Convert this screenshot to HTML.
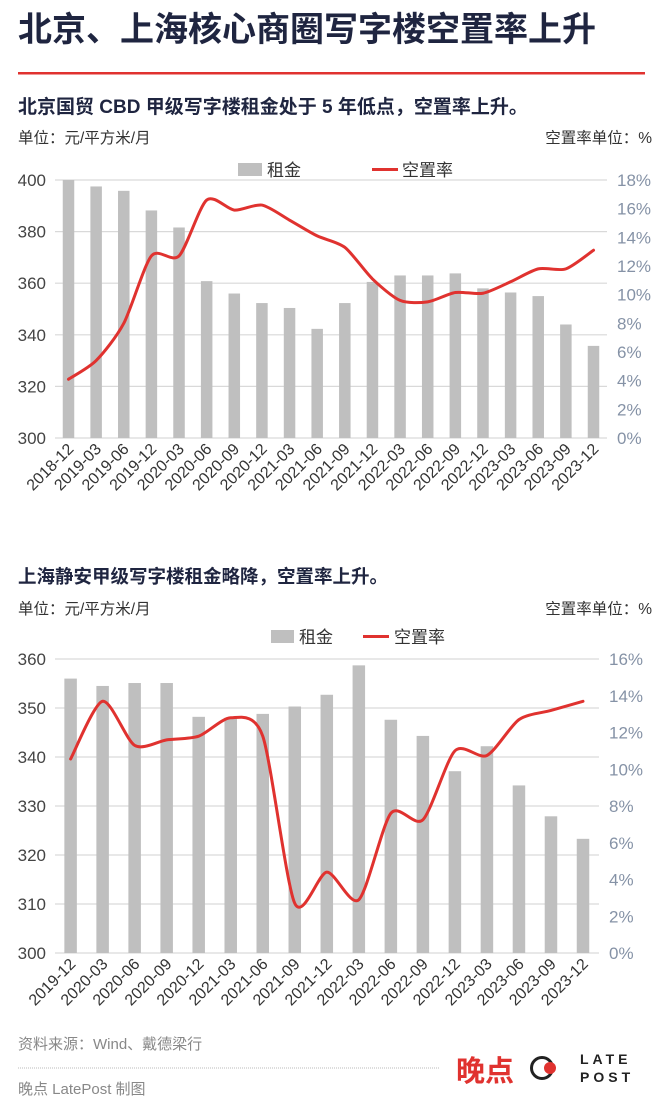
<!DOCTYPE html>
<html><head><meta charset="utf-8">
<style>
body{margin:0;background:#fff;}
svg{display:block;font-family:"Liberation Sans","Noto Sans CJK SC",sans-serif;}
</style></head>
<body>
<svg id="root" width="660" height="1108" viewBox="0 0 660 1108">
<text x="18" y="41" font-size="34" font-weight="bold" fill="#1f2540">北京、上海核心商圈写字楼空置率上升</text>
<rect x="18" y="72" width="627" height="2.5" fill="#e0322f"/>

<text x="18" y="113" font-size="19" font-weight="bold" fill="#1f2540">北京国贸 CBD 甲级写字楼租金处于 5 年低点，空置率上升。</text>
<text x="18" y="143" font-size="15.5" fill="#333">单位：元/平方米/月</text>
<text x="652" y="143" font-size="15.5" fill="#333" text-anchor="end">空置率单位：%</text>
<g>
<rect x="238" y="163" width="24" height="13" fill="#bfbfbf"/>
<text x="267" y="176" font-size="17" fill="#333">租金</text>
<rect x="372" y="168" width="26" height="3" fill="#e0322f"/>
<text x="402" y="176" font-size="17" fill="#333">空置率</text>
</g>
<g id="c1"></g>

<text x="18" y="583" font-size="18.5" font-weight="bold" fill="#1f2540">上海静安甲级写字楼租金略降，空置率上升。</text>
<text x="18" y="614" font-size="15.5" fill="#333">单位：元/平方米/月</text>
<text x="652" y="614" font-size="15.5" fill="#333" text-anchor="end">空置率单位：%</text>
<g>
<rect x="271" y="630" width="23" height="13" fill="#bfbfbf"/>
<text x="299" y="643" font-size="17" fill="#333">租金</text>
<rect x="363" y="635" width="26" height="3" fill="#e0322f"/>
<text x="394" y="643" font-size="17" fill="#333">空置率</text>
</g>
<g id="c2"></g>

<text x="18" y="1049" font-size="15" fill="#888">资料来源：Wind、戴德梁行</text>
<line x1="18" y1="1068" x2="440" y2="1068" stroke="#bbb" stroke-width="1" stroke-dasharray="1,1"/>
<text x="18" y="1094" font-size="15" fill="#888">晚点 LatePost 制图</text>
<g>
<text x="456" y="1081" font-size="29" font-weight="bold" fill="#e0322f">晚点</text>
<circle cx="542" cy="1068" r="10.5" fill="none" stroke="#222" stroke-width="3"/>
<circle cx="550" cy="1068" r="6" fill="#e0322f"/>
<text x="580" y="1064" font-size="14" font-weight="bold" fill="#222" letter-spacing="4">LATE</text>
<text x="580" y="1082" font-size="14" font-weight="bold" fill="#222" letter-spacing="4">POST</text>
</g>
</svg>
<script>
const cats1 = ["2018-12","2019-03","2019-06","2019-12","2020-03","2020-06","2020-09","2020-12","2021-03","2021-06","2021-09","2021-12","2022-03","2022-06","2022-09","2022-12","2023-03","2023-06","2023-09","2023-12"];
const rent1 = [400,397.5,395.8,388.2,381.6,360.8,356,352.3,350.4,342.3,352.3,360.5,363,363,363.8,358,356.4,355,344,335.7];
const vac1 = [4.1,5.4,8.0,12.7,12.7,16.6,15.9,16.25,15.2,14.1,13.3,11.1,9.6,9.5,10.15,10.1,10.9,11.8,11.8,13.1];
const leftTicks1 = [300,320,340,360,380,400];
const rightTicks1 = [0,2,4,6,8,10,12,14,16,18];

const cats2 = ["2019-12","2020-03","2020-06","2020-09","2020-12","2021-03","2021-06","2021-09","2021-12","2022-03","2022-06","2022-09","2022-12","2023-03","2023-06","2023-09","2023-12"];
const rent2 = [356,354.5,355.1,355.1,348.2,348,348.8,350.3,352.7,358.7,347.6,344.3,337.1,342.2,334.2,327.9,323.3];
const vac2 = [10.56,13.7,11.3,11.6,11.8,12.8,11.8,2.7,4.4,2.9,7.6,7.25,11.0,10.75,12.7,13.2,13.7];
const leftTicks2 = [300,310,320,330,340,350,360];
const rightTicks2 = [0,2,4,6,8,10,12,14,16];

const NS="http://www.w3.org/2000/svg";
function mk(tag, attrs, parent){const e=document.createElementNS(NS,tag);for(const k in attrs)e.setAttribute(k,attrs[k]);parent.appendChild(e);return e;}

function draw(g, cats, rent, vac, lt, rt, cfg){
  const lmin=lt[0], lmax=lt[lt.length-1], rmin=rt[0], rmax=rt[rt.length-1];
  const yL=v=>cfg.y1-(v-lmin)/(lmax-lmin)*(cfg.y1-cfg.y0);
  const yR=v=>cfg.y1-(v-rmin)/(rmax-rmin)*(cfg.y1-cfg.y0);
  const step=(cfg.xl-cfg.xf)/(cats.length-1);
  const xC=i=>cfg.xf+i*step;
  lt.forEach(t=>{
    const l=mk('line',{x1:cfg.gx0,x2:cfg.gx1,y1:yL(t),y2:yL(t),stroke:'#d9d9d9','stroke-width':1.2},g);
    
    
    const tx=mk('text',{x:cfg.lx,y:yL(t)+6,'font-size':17,fill:'#444','text-anchor':'end'},g);
    tx.textContent=t;
    
    
  });
  rt.forEach(t=>{
    const tx=mk('text',{x:cfg.rx,y:yR(t)+6,'font-size':17,fill:'#8592a6'},g);
    tx.textContent=t+'%';
    
    
  });
  rent.forEach((v,i)=>{
    const r=mk('rect',{x:xC(i)-cfg.bw/2,y:yL(v),width:cfg.bw,height:cfg.y1-yL(v),fill:'#bfbfbf'},g);
    
    
  });
  cats.forEach((c,i)=>{
    const ax=xC(i)+6, ay=cfg.y1+12;
    const tx=mk('text',{x:ax,y:ay,'font-size':16,fill:'#333','text-anchor':'end',transform:'rotate(-45 '+ax+' '+ay+')'},g);
    tx.textContent=c;
    
    
  });
  const pts=vac.map((v,i)=>[xC(i),yR(v)]);
  let d='M'+pts[0][0]+','+pts[0][1];
  for(let i=0;i<pts.length-1;i++){
    const p0=pts[Math.max(0,i-1)],p1=pts[i],p2=pts[i+1],p3=pts[Math.min(pts.length-1,i+2)];
    const t=0.13;
    const c1=[p1[0]+(p2[0]-p0[0])*t,p1[1]+(p2[1]-p0[1])*t];
    const c2=[p2[0]-(p3[0]-p1[0])*t,p2[1]-(p3[1]-p1[1])*t];
    d+=' C'+c1.join(',')+' '+c2.join(',')+' '+p2.join(',');
  }
  const path=mk('path',{d:d,fill:'none',stroke:'#e0322f','stroke-width':3,'stroke-linejoin':'round','stroke-linecap':'round'},g);
  
  
}
draw(document.getElementById('c1'),cats1,rent1,vac1,leftTicks1,rightTicks1,
  {y0:180,y1:438,xf:68.5,xl:593.5,gx0:55,gx1:607,bw:11.5,lx:46,rx:617});
draw(document.getElementById('c2'),cats2,rent2,vac2,leftTicks2,rightTicks2,
  {y0:659,y1:953,xf:70.6,xl:583,gx0:55,gx1:599,bw:12.5,lx:46,rx:609});
</script>
</body></html>
